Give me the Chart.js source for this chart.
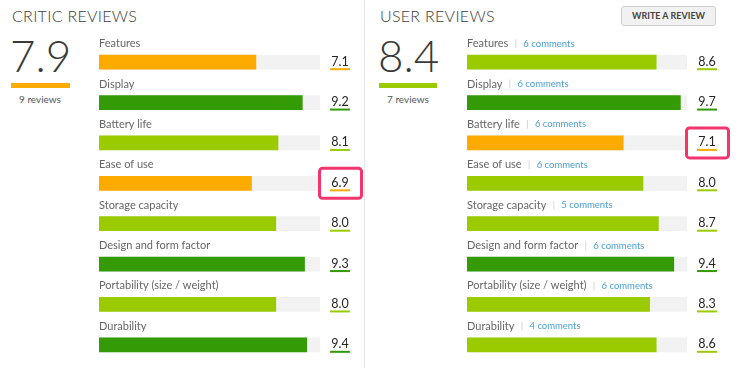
<!DOCTYPE html>
<html>
<head>
<meta charset="utf-8">
<script src="https://cdn.jsdelivr.net/npm/chart.js@4"></script>
<style>
  html, body { margin: 0; padding: 0; background: #fff; }
  body { width: 740px; height: 368px; position: relative; overflow: hidden; font-family: Lato, "Open Sans", sans-serif; color: #444; }
  .title { position: absolute; top: 8px; font-size: 16px; font-weight: 300; line-height: 1; letter-spacing: 0.3px; color: #3c3c3c; }
  .big { position: absolute; top: 33px; font-size: 44px; font-weight: 300; line-height: 1; color: #3a3a3a; }
  .scorebar { position: absolute; top: 83px; height: 5px; }
  .count { position: absolute; top: 94px; font-size: 10px; line-height: 1; color: #555; text-align: center; width: 70px; }
  .divider { position: absolute; left: 364px; top: 0; width: 1px; height: 368px; background: #e6e6e6; }
  .btn { position: absolute; left: 621px; top: 6px; width: 93px; height: 18px; background: #f1f1f1; border: 1px solid #cfcfcf; border-radius: 3px;
         font-size: 9px; font-weight: bold; color: #444; text-align: center; line-height: 18px; }
  canvas { position: absolute; top: 0; }
</style>
</head>
<body>

<div class="title" style="left:12px">CRITIC REVIEWS</div>
<div class="big" id="criticBig" style="left:10px"></div>
<div class="scorebar" id="criticBar" style="left:11px;width:59px"></div>
<div class="count" id="criticCount" style="left:5px"></div>

<div class="divider"></div>

<div class="title" style="left:380px">USER REVIEWS</div>
<div class="btn">WRITE A REVIEW</div>
<div class="big" id="userBig" style="left:378px"></div>
<div class="scorebar" id="userBar" style="left:379px;width:58px"></div>
<div class="count" id="userCount" style="left:373px"></div>

<div style="position:absolute;left:90px;top:0;width:275px;height:368px"><canvas id="criticChart"></canvas></div>
<div style="position:absolute;left:457px;top:0;width:283px;height:368px"><canvas id="userChart"></canvas></div>

<script>
// ---- donnees -------------------------------------------------------------
const categories = ["Features", "Display", "Battery life", "Ease of use", "Storage capacity",
                    "Design and form factor", "Portability (size / weight)", "Durability"];
const criticScores = [7.1, 9.2, 8.1, 6.9, 8.0, 9.3, 8.0, 9.4];
const userScores   = [8.6, 9.7, 7.1, 8.0, 8.7, 9.4, 8.3, 8.6];
const userComments = [6, 6, 6, 6, 5, 6, 6, 4];
const criticOverall = 7.9, criticReviews = 9;
const userOverall = 8.4, userReviews = 7;
const criticHighlight = 3;   // Ease of use
const userHighlight = 2;     // Battery life
const maxScore = 10;

// ---- couleurs ------------------------------------------------------------
function scoreColor(v) {
  if (v >= 9) return "#349a05";
  if (v >= 8) return "#9acb00";
  return "#fdab00";
}

// en-tetes (grosse note + barre)
document.getElementById("criticBig").textContent = criticOverall.toFixed(1);
document.getElementById("criticBar").style.background = scoreColor(criticOverall);
document.getElementById("criticCount").textContent = criticReviews + " reviews";
document.getElementById("userBig").textContent = userOverall.toFixed(1);
document.getElementById("userBar").style.background = scoreColor(userOverall);
document.getElementById("userCount").textContent = userReviews + " reviews";

// plugin: libelles au-dessus, valeur soulignee a droite, cadre rose
const decorations = {
  id: "decorations",
  afterDatasetsDraw(chart, args, opts) {
    const ctx = chart.ctx;
    const area = chart.chartArea;
    const yScale = chart.scales.y;
    const scores = chart.data.datasets[0].data;
    ctx.save();
    categories.forEach(function (label, i) {
      const cy = yScale.getPixelForValue(i);
      // libelle
      ctx.textAlign = "left";
      ctx.textBaseline = "alphabetic";
      ctx.font = "11px Lato, 'Open Sans', sans-serif";
      ctx.fillStyle = "#666";
      ctx.fillText(label, area.left, cy - 15);
      if (opts.comments) {
        let x = area.left + ctx.measureText(label).width + 7;
        ctx.fillStyle = "#d9d9d9";
        ctx.fillRect(x, cy - 23, 1, 9);
        ctx.font = "9.5px Lato, 'Open Sans', sans-serif";
        ctx.fillStyle = "#4a9fd4";
        ctx.fillText(opts.comments[i] + " comments", x + 8, cy - 15.5);
      }
      // valeur
      const vx = area.right + 20;
      ctx.textAlign = "center";
      ctx.font = "12.5px Lato, 'Open Sans', sans-serif";
      ctx.fillStyle = "#262626";
      ctx.fillText(scores[i].toFixed(1), vx, cy + 3.5);
      ctx.fillStyle = scoreColor(scores[i]);
      ctx.fillRect(area.right + 10, cy + 6, 20, 2);
      // cadre
      if (i === opts.highlight) {
        ctx.strokeStyle = "#f2356f";
        ctx.lineWidth = 3;
        ctx.beginPath();
        ctx.roundRect(area.right - 0.5, cy - 15, 42, 30, 3);
        ctx.stroke();
      }
    });
    ctx.restore();
  }
};

function makeChart(id, scores, padding, extra) {
  return new Chart(document.getElementById(id), {
    type: "bar",
    data: {
      labels: categories,
      datasets: [
        { data: scores, backgroundColor: scores.map(scoreColor) },
        { data: categories.map(() => maxScore), backgroundColor: "#f2f2f2" }
      ]
    },
    options: {
      indexAxis: "y",
      responsive: true,
      maintainAspectRatio: false,
      animation: false,
      layout: { padding: padding },
      datasets: { bar: { grouped: false, barThickness: 14, borderWidth: 0 } },
      scales: {
        x: { display: false, min: 0, max: maxScore },
        y: { display: false }
      },
      plugins: {
        legend: { display: false },
        tooltip: { enabled: false },
        decorations: extra
      }
    },
    plugins: [decorations]
  });
}

makeChart("criticChart", criticScores, { left: 9, right: 45, top: 42, bottom: 3 }, { highlight: criticHighlight });
makeChart("userChart", userScores, { left: 10, right: 53, top: 42, bottom: 3 }, { highlight: userHighlight, comments: userComments });
</script>
</body>
</html>
